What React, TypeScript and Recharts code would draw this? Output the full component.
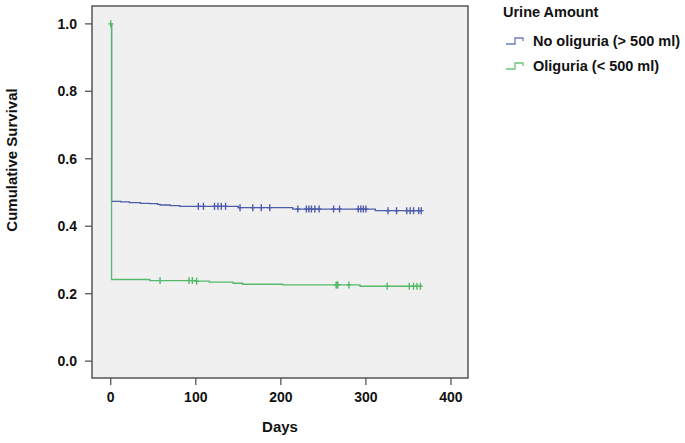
import React from "react";
import {
  ComposedChart,
  Line,
  Scatter,
  XAxis,
  YAxis,
  ReferenceArea,
} from "recharts";

// Kaplan-Meier step points: [day, cumulative survival]
const noOliguriaSteps: [number, number][] = [
  [0, 1.0], [1, 0.474], [12, 0.472], [22, 0.47], [35, 0.468], [46, 0.467],
  [55, 0.465], [58, 0.463], [70, 0.461], [81, 0.459], [150, 0.455],
  [214, 0.451], [311, 0.446], [366, 0.446],
];
const oliguriaSteps: [number, number][] = [
  [0, 1.0], [1, 0.242], [46, 0.239], [100, 0.237], [116, 0.234],
  [144, 0.231], [155, 0.228], [202, 0.226], [293, 0.222], [366, 0.222],
];

// censored observations (days)
const noOliguriaCensored = [
  103, 109, 122, 126, 130, 135, 152, 167, 177, 187, 220, 230, 233, 236, 240,
  245, 262, 269, 291, 294, 297, 300, 326, 336, 348, 352, 356, 362, 365,
];
const oliguriaCensored = [0, 58, 92, 96, 101, 265, 266, 267, 280, 325, 351, 356, 360, 364];

const xTicks = [0, 100, 200, 300, 400];
const yTicks = [0, 0.2, 0.4, 0.6, 0.8, 1.0];
const X_MIN = -22;
const X_MAX = 420;
const Y_MIN = -0.05;
const Y_MAX = 1.053;

const BLUE = "#4d5cab";
const GREEN = "#55b96b";
const FONT = "'Liberation Sans', Arial, sans-serif";

const toRows = (steps: [number, number][]) =>
  steps.map(([day, surv]) => ({ day, surv }));

const survAt = (steps: [number, number][], day: number) => {
  let v = steps[0][1];
  for (const [d, s] of steps) {
    if (d <= day) v = s;
  }
  return v;
};

const censorRows = (steps: [number, number][], days: number[]) =>
  days.map((day) => ({ day, surv: survAt(steps, day) }));

const makeCensor = (color: string) => (props: any) => {
  const { cx, cy } = props;
  if (cx == null || cy == null) return <g />;
  return (
    <g>
      <line x1={cx} x2={cx} y1={cy - 3.5} y2={cy + 3.5} stroke={color} strokeWidth={1.4} />
      <line x1={cx - 2.5} x2={cx + 2.5} y1={cy} y2={cy} stroke={color} strokeWidth={1.2} />
    </g>
  );
};

const legendItems = [
  { label: "No oliguria (> 500 ml)", color: "#6b79bd" },
  { label: "Oliguria (< 500 ml)", color: "#6cc27e" },
];

const LegendBox = () => (
  <div
    style={{
      position: "absolute",
      left: 503,
      top: 3,
      fontFamily: FONT,
      fontWeight: 700,
      fontSize: 14.5,
      color: "#111",
      lineHeight: "18px",
    }}
  >
    <div style={{ marginBottom: 11 }}>Urine Amount</div>
    {legendItems.map((it) => (
      <div key={it.label} style={{ display: "flex", alignItems: "center", marginBottom: 7 }}>
        <svg width={22} height={12} style={{ marginLeft: 2, marginRight: 6 }}>
          <path d="M1,9 H10 V3 H18 V6" fill="none" stroke={it.color} strokeWidth={1.3} />
        </svg>
        <span>{it.label}</span>
      </div>
    ))}
  </div>
);

const labelStyle = { fontFamily: FONT, fontWeight: 700, fontSize: 15, fill: "#111" };

export default function App() {
  const tickStyle = { fontFamily: FONT, fontWeight: 700, fontSize: 14, fill: "#111" };
  return (
    <div style={{ position: "relative", width: 685, height: 443, background: "#fff" }}>
      <style>{`body{margin:0}`}</style>
      <ComposedChart
        width={685}
        height={443}
        margin={{ top: 6, right: 217, bottom: 5, left: 0 }}
      >
        <XAxis
          type="number"
          dataKey="day"
          domain={[X_MIN, X_MAX]}
          ticks={xTicks}
          allowDataOverflow
          tick={tickStyle}
          tickSize={7}
          tickMargin={7}
          height={60}
          axisLine={false}
          tickLine={{ stroke: "#555", strokeWidth: 1.3 }}
          label={{
            value: "Days",
            position: "insideBottom",
            offset: 6,
            style: labelStyle,
          }}
        />
        <YAxis
          type="number"
          domain={[Y_MIN, Y_MAX]}
          ticks={yTicks}
          allowDataOverflow
          width={92}
          tick={tickStyle}
          tickSize={7}
          tickMargin={8}
          axisLine={false}
          tickLine={{ stroke: "#555", strokeWidth: 1.3 }}
          tickFormatter={(v: number) => v.toFixed(1)}
          label={{
            content: () => (
              <text
                x={17}
                y={160}
                transform="rotate(-90, 17, 160)"
                textAnchor="middle"
                style={labelStyle}
              >
                Cumulative Survival
              </text>
            ),
          }}
        />
        <ReferenceArea
          x1={X_MIN}
          x2={X_MAX}
          y1={Y_MIN}
          y2={Y_MAX}
          fill="#f0f0f0"
          fillOpacity={1}
          stroke="#555"
          strokeWidth={1.5}
        />
        <Line
          data={toRows(noOliguriaSteps)}
          dataKey="surv"
          type="stepAfter"
          stroke={BLUE}
          strokeWidth={1.3}
          dot={false}
          activeDot={false}
          isAnimationActive={false}
        />
        <Line
          data={toRows(oliguriaSteps)}
          dataKey="surv"
          type="stepAfter"
          stroke={GREEN}
          strokeWidth={1.3}
          dot={false}
          activeDot={false}
          isAnimationActive={false}
        />
        <Scatter
          data={censorRows(noOliguriaSteps, noOliguriaCensored)}
          dataKey="surv"
          shape={makeCensor(BLUE)}
          isAnimationActive={false}
        />
        <Scatter
          data={censorRows(oliguriaSteps, oliguriaCensored)}
          dataKey="surv"
          shape={makeCensor(GREEN)}
          isAnimationActive={false}
        />
      </ComposedChart>
      <LegendBox />
    </div>
  );
}
